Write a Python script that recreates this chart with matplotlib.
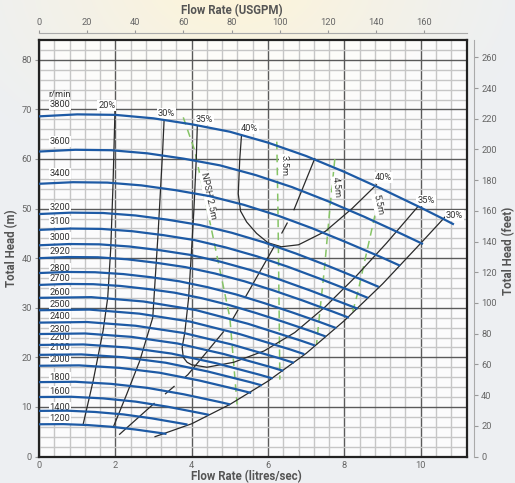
import matplotlib
matplotlib.use('Agg')
import matplotlib.pyplot as plt
import numpy as np

plt.rcParams['font.family'] = ['Roboto', 'DejaVu Sans']
narrow = ['Liberation Sans Narrow', 'Roboto', 'DejaVu Sans']

# pump speeds (r/min) and their head curves: flow in litres/sec, head in m
speeds = ['3800', '3600', '3400', '3200', '3100', '3000', '2920', '2800', '2700', '2600',
          '2500', '2400', '2300', '2200', '2100', '2000', '1800', '1600', '1400', '1200']
curve_q = [
    [0, 1, 2, 3, 4, 5, 6, 7, 8, 9, 10, 10.57, 10.87],
    [0, .95, 1.89, 2.84, 3.79, 4.74, 5.68, 6.63, 7.58, 8.53, 9.47, 10.06],
    [0, .89, 1.79, 2.68, 3.58, 4.47, 5.37, 6.26, 7.16, 8.05, 8.95, 9.46],
    [0, .84, 1.68, 2.53, 3.37, 4.21, 5.05, 5.89, 6.74, 7.58, 8.42, 8.90],
    [0, .82, 1.63, 2.45, 3.26, 4.08, 4.89, 5.71, 6.53, 7.34, 8.16, 8.62],
    [0, .79, 1.58, 2.37, 3.16, 3.95, 4.74, 5.53, 6.32, 7.11, 7.89, 8.35],
    [0, .77, 1.54, 2.31, 3.07, 3.84, 4.61, 5.38, 6.15, 6.92, 7.68, 8.12],
    [0, .74, 1.47, 2.21, 2.95, 3.68, 4.42, 5.16, 5.89, 6.63, 7.37, 7.79],
    [0, .71, 1.42, 2.13, 2.84, 3.55, 4.26, 4.97, 5.68, 6.39, 7.11, 7.51],
    [0, 1.37, 2.74, 4.11, 5.47, 6.84, 7.23],
    [0, 1.32, 2.63, 3.95, 5.26, 6.58, 6.95],
    [0, 1.26, 2.53, 3.79, 5.05, 6.32, 6.68],
    [0, 1.21, 2.42, 3.63, 4.84, 6.05, 6.40],
    [0, 1.16, 2.32, 3.47, 4.63, 5.79, 6.12],
    [0, 1.11, 2.21, 3.32, 4.42, 5.53, 5.84],
    [0, 1.05, 2.11, 3.16, 4.21, 5.26, 5.56],
    [0, .95, 1.89, 2.84, 3.79, 4.74, 5.01],
    [0, .84, 1.68, 2.53, 3.37, 4.21, 4.45],
    [0, .74, 1.47, 2.21, 2.95, 3.68, 3.89],
    [0, .63, 1.26, 1.89, 2.53, 3.16, 3.34],
]
curve_h = [
    [68.6, 69.0, 68.9, 68.2, 67.0, 65.5, 63.3, 60.6, 57.4, 53.9, 50.2, 48.0, 46.8],
    [61.50, 61.86, 61.77, 61.14, 60.07, 58.72, 56.75, 54.33, 51.46, 48.32, 45.00, 42.85],
    [55.00, 55.32, 55.24, 54.68, 53.71, 52.51, 50.75, 48.58, 46.02, 43.21, 40.25, 38.48],
    [48.90, 49.18, 49.11, 48.61, 47.76, 46.69, 45.12, 43.20, 40.91, 38.42, 35.78, 34.21],
    [45.70, 45.97, 45.90, 45.43, 44.64, 43.64, 42.17, 40.37, 38.24, 35.91, 33.44, 31.98],
    [42.60, 42.85, 42.79, 42.35, 41.61, 40.68, 39.31, 37.63, 35.65, 33.47, 31.17, 29.81],
    [40.00, 40.23, 40.18, 39.77, 39.07, 38.19, 36.91, 35.34, 33.47, 31.43, 29.27, 27.99],
    [37.00, 37.22, 37.16, 36.79, 36.14, 35.33, 34.14, 32.69, 30.96, 29.07, 27.08, 25.89],
    [34.60, 34.80, 34.75, 34.40, 33.79, 33.04, 31.93, 30.57, 28.95, 27.19, 25.32, 24.21],
    [32.00, 32.14, 31.26, 29.53, 26.78, 23.42, 22.39],
    [29.50, 29.63, 28.81, 27.22, 24.68, 21.59, 20.64],
    [27.00, 27.12, 26.37, 24.91, 22.59, 19.76, 18.89],
    [24.70, 24.81, 24.13, 22.79, 20.67, 18.08, 17.28],
    [22.50, 22.60, 21.98, 20.76, 18.83, 16.47, 15.74],
    [20.50, 20.59, 20.02, 18.91, 17.15, 15.00, 14.34],
    [18.30, 18.38, 17.88, 16.89, 15.31, 13.39, 12.81],
    [15.00, 15.07, 14.65, 13.84, 12.55, 10.98, 10.50],
    [12.00, 12.05, 11.72, 11.07, 10.04, 8.78, 8.40],
    [9.20, 9.24, 8.98, 8.49, 7.70, 6.73, 6.44],
    [6.50, 6.53, 6.35, 6.00, 5.44, 4.76, 4.55],
]
speed_label_h = [70.9, 63.5, 57.0, 50.3, 47.4, 44.1, 41.4, 37.9, 35.9, 33.1,
                 30.6, 28.2, 25.7, 23.9, 21.9, 19.6, 15.9, 13.1, 9.9, 7.7]

# efficiency contours
eff20_q = [1.16, 1.42, 1.68, 1.80, 1.88, 1.94, 1.99]
eff20_h = [6.6, 15.3, 25.4, 32.0, 42.0, 55.0, 69.6]
eff30_q = [1.95, 2.30, 2.64, 2.98, 3.12, 3.24, 3.28]
eff30_h = [6.0, 12.6, 19.3, 28.0, 45.0, 61.7, 68.3]
eff35_q = [4.15, 4.12, 4.06, 4.00, 3.92, 3.82, 3.75, 3.78, 3.88, 4.00, 4.40, 5.10, 5.90, 6.70, 7.50, 8.30, 9.10, 9.95]
eff35_h = [67.2, 60.0, 50.0, 42.0, 32.0, 25.0, 22.0, 20.0, 19.0, 18.5, 18.0, 19.0, 21.3, 25.0, 30.2, 36.3, 43.0, 50.6]
eff40_q = [5.31, 5.26, 5.22, 5.28, 5.44, 5.70, 6.00, 6.35, 6.80, 7.50, 8.20, 8.84]
eff40_h = [65.3, 60.0, 53.0, 49.5, 47.3, 45.0, 43.1, 42.3, 42.7, 45.4, 50.0, 54.8]
eff30r_q = [3.04, 4.0, 5.0, 6.0, 7.0, 8.0, 9.0, 10.0, 10.72]
eff30r_h = [4.0, 6.6, 10.5, 15.2, 20.8, 27.4, 34.8, 43.0, 49.0]
bep_q = [2.10, 3.00, 3.90, 5.00, 5.50, 6.35, 6.65, 7.23]
bep_h = [4.4, 10.6, 16.5, 26.7, 33.4, 44.9, 49.2, 60.2]
eff_labels = ['20%', '30%', '35%', '40%', '40%', '35%', '30%']
eff_label_q = [1.78, 3.33, 4.33, 5.51, 9.03, 10.14, 10.89]
eff_label_h = [70.8, 69.1, 67.9, 66.1, 56.2, 51.7, 48.6]

# NPSH lines
npsh25_q = [3.78, 4.08, 4.54, 5.00, 5.19]
npsh25_h = [68.4, 61.7, 45.0, 28.0, 10.5]
npsh35_q = [6.23, 6.26, 6.29, 6.31]
npsh35_h = [63.5, 50.0, 30.0, 15.5]
npsh45_q = [7.75, 7.62, 7.48, 7.36, 7.27]
npsh45_h = [60.0, 50.0, 38.0, 29.4, 22.5]
npsh55_q = [8.80, 8.55, 8.35, 8.19]
npsh55_h = [48.6, 40.0, 33.0, 28.4]
npsh_labels = ['NPSH 2.5m', '3.5m', '4.5m', '5.5m']
npsh_label_q = [4.44, 6.43, 7.80, 8.88]
npsh_label_h = [52.6, 58.7, 54.3, 50.8]
npsh_label_rot = [-78, -90, -84, -77]

fig = plt.figure(figsize=(5.15, 4.83), dpi=100)

# soft background
bg = fig.add_axes([0, 0, 1, 1], zorder=-10)
yy, xx = np.mgrid[0:1:200j, 0:1:200j]
d = np.sqrt(((xx - 0.45) / 0.6) ** 2 + ((yy + 0.05) / 0.45) ** 2)
w = np.clip(1 - d, 0, 1) ** 1.3
base = np.array([0.93, 0.94, 0.95])
glow = np.array([1.0, 0.96, 0.84])
img = base * (1 - w[..., None]) + glow * w[..., None]
bg.imshow(img, aspect='auto', extent=[0, 1, 0, 1])
bg.axis('off')

ax = fig.add_axes([39 / 515, 26.5 / 483, 427.5 / 515, 416.5 / 483])
ax.patch.set_facecolor((1, 1, 1, 0.8))
ax.set_xlim(0, 11.2)
ax.set_ylim(0, 84)

ax.set_xticks(np.arange(0, 11, 2))
ax.set_xticks(np.arange(0, 11.2, 0.4), minor=True)
ax.set_yticks(np.arange(0, 81, 10))
ax.set_yticks(np.arange(0, 84, 2), minor=True)
ax.set_axisbelow(True)
ax.grid(which='minor', color='#c6c6c6', lw=1.0)
ax.grid(which='major', color='#5a5a5a', lw=1.0)
for s in ax.spines.values():
    s.set_color('#222')
    s.set_linewidth(1.6)
ax.tick_params(which='minor', length=0)
ax.tick_params(axis='x', which='major', length=0, pad=3.5, labelsize=6.7, labelcolor='#666')
ax.tick_params(axis='y', which='major', length=3, width=0.8, color='#999', pad=2,
               labelsize=6.7, labelcolor='#666')

gpm = ax.secondary_xaxis('top', functions=(lambda q: q * 15.85, lambda g: g / 15.85))
gpm.set_xticks(np.arange(0, 161, 20))
gpm.spines['top'].set_position(('outward', 5))
gpm.spines['top'].set_color('#aaa')
gpm.tick_params(length=2.5, width=0.8, color='#999', pad=1.5, labelsize=6.7, labelcolor='#666')

feet = ax.secondary_yaxis('right', functions=(lambda m: m * 3.23, lambda f: f / 3.23))
feet.set_yticks(np.arange(0, 261, 20))
feet.spines['right'].set_position(('outward', 5.5))
feet.spines['right'].set_color('#aaa')
feet.tick_params(length=3, width=0.8, color='#999', pad=2, labelsize=6.7, labelcolor='#666')

# head curves
for q, h in zip(curve_q, curve_h):
    ax.plot(q, h, color='#1d5aa5', lw=1.6, zorder=4, solid_capstyle='butt')

# efficiency lines
for q, h in [(eff20_q, eff20_h), (eff30_q, eff30_h), (eff35_q, eff35_h),
             (eff40_q, eff40_h), (eff30r_q, eff30r_h)]:
    ax.plot(q, h, color='#2a2a2a', lw=0.9, zorder=3)
ax.plot(bep_q, bep_h, color='#2a2a2a', lw=0.9, zorder=3, linestyle=(10, (48, 11, 10, 11)))

# NPSH lines
for q, h in [(npsh25_q, npsh25_h), (npsh35_q, npsh35_h), (npsh45_q, npsh45_h), (npsh55_q, npsh55_h)]:
    ax.plot(q, h, color='#86c466', lw=1.1, zorder=2, linestyle=(0, (5, 3.5)))
for t, q, h, r in zip(npsh_labels, npsh_label_q, npsh_label_h, npsh_label_rot):
    ax.text(q, h, t, rotation=r, ha='center', va='center', fontsize=6.7, color='#333', zorder=2.5,
            rotation_mode='anchor',
            bbox=dict(boxstyle='square,pad=0.05', fc='white', ec='none'))

for t, q, h in zip(eff_labels, eff_label_q, eff_label_h):
    ax.text(q, h, t, ha='center', va='center', fontsize=6.7, color='#333', zorder=3.5,
            bbox=dict(boxstyle='square,pad=0.1', fc='white', ec='none'))

for t, h in zip(speeds, speed_label_h):
    ax.text(0.55, h, t, ha='center', va='center', fontsize=6.7, color='#333', zorder=3.5,
            bbox=dict(boxstyle='square,pad=0.1', fc='white', ec='none'))
ax.text(0.55, 73.1, 'r/min', ha='center', va='center', fontsize=6.7, color='#333', zorder=3.5)

lab = dict(fontsize=8.3, fontweight='bold', color='#555', family=narrow, ha='center', va='center')
fig.text(232 / 515, 1 - 11 / 483, 'Flow Rate (USGPM)', **lab)
fig.text(246 / 515, 1 - 476.5 / 483, 'Flow Rate (litres/sec)', **lab)
fig.text(12 / 515, 1 - 248 / 483, 'Total Head (m)', rotation=90, **lab)
fig.text(509 / 515, 1 - 251 / 483, 'Total Head (feet)', rotation=90, **lab)

fig.savefig('out.png', dpi=100)
